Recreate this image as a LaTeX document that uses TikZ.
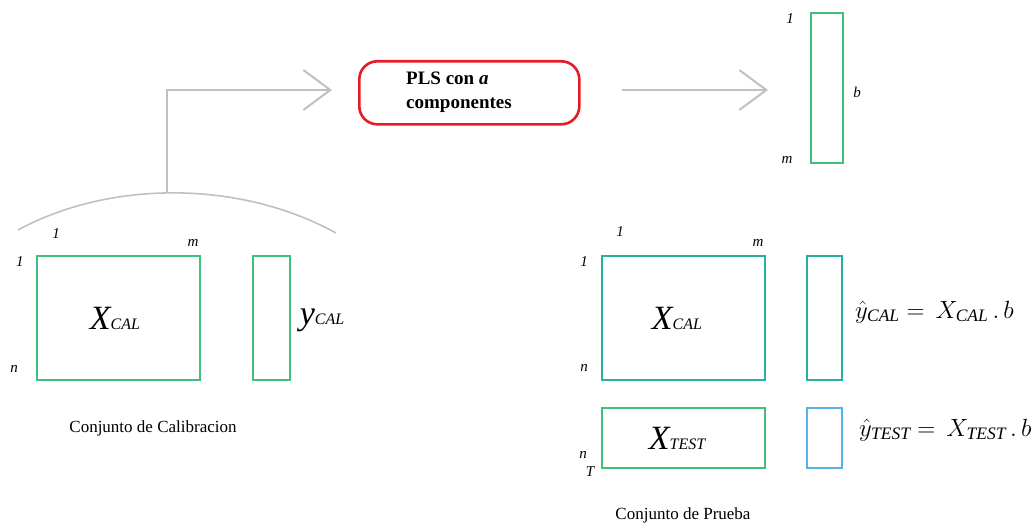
\documentclass[tikz,border=0pt]{standalone}
\usepackage{fontspec}
\setmainfont{Liberation Serif}
\usetikzlibrary{arrows.meta}
\definecolor{mgreen}{RGB}{62,192,122}
\definecolor{mteal}{RGB}{38,178,160}
\definecolor{mblue}{RGB}{84,178,230}
\definecolor{mgray}{RGB}{192,192,192}
\definecolor{mred}{RGB}{228,28,36}
\tikzset{
  mat/.style={draw=#1, line width=2pt, anchor=north west, inner sep=0pt},
  lbl/.style={font=\itshape\fontsize{15}{17}\selectfont, inner sep=0pt},
  flow/.style={draw=mgray, line width=2pt, -{Straight Barb[length=27pt,width=40pt]}},
  caption/.style={font=\fontsize{17}{20}\selectfont, inner sep=0pt},
  bigX/.style={font=\itshape\fontsize{34}{38}\selectfont, inner sep=0pt},
  eqn/.style={anchor=west, inner sep=0pt, font=\fontsize{25}{28}\selectfont},
}
\newcommand{\sub}[1]{{\fontsize{16}{18}\selectfont\itshape #1}}
\begin{document}
\begin{tikzpicture}[x=1pt,y=-1pt]
\useasboundingbox (0,0) rectangle (1034,527);
% arc (brace) and arrow to PLS
\draw[mgray, line width=1.6pt] (18,230) .. controls (110,180) and (240,180) .. (336,233);
\coordinate (arctop) at (167,192);
\coordinate (a1end) at (332,90);
\draw[flow] (arctop) -- (167,90) -- (a1end);
% PLS box
\node[draw=mred, line width=2.6pt, rounded corners=18pt, minimum width=220pt, minimum height=63pt, anchor=north west] (pls) at (358,60) {};
\node[font=\bfseries\fontsize{19}{24}\selectfont, align=left, anchor=west, inner sep=0pt] (plstext) at (406,92) {PLS con \textit{a}\\componentes};
% arrow to b
\coordinate (a2start) at (622,90);
\coordinate (a2end) at (768,90);
\draw[flow] (a2start) -- (a2end);
% b vector
\node[mat=mgreen, minimum width=32pt, minimum height=150pt] (bvec) at (810,12) {};
\node[lbl] (b1) at (790,19) {1};
\node[lbl] (bm) at (787,160) {m};
\node[lbl] (bb) at (857,92) {b};
% left calibration set
\node[mat=mgreen, minimum width=163pt, minimum height=124pt] (xcalL) at (36,255) {};
\node[bigX] (xcalLt) at (115,318) {X\sub{CAL}};
\node[mat=mgreen, minimum width=37pt, minimum height=124pt] (ycalL) at (252,255) {};
\node[font=\itshape\fontsize{34}{38}\selectfont, inner sep=0pt] (ycalLt) at (322,320) {y\sub{CAL}};
\node[lbl] (L1top) at (56,234) {1};
\node[lbl] (Lm) at (193,243) {m};
\node[lbl] (L1left) at (20,262) {1};
\node[lbl] (Ln) at (14,369) {n};
\node[caption] (capL) at (153,428) {Conjunto de Calibracion};
% right test set
\node[mat=mteal, minimum width=163pt, minimum height=124pt] (xcalR) at (601,255) {};
\node[bigX] (xcalRt) at (677,318) {X\sub{CAL}};
\node[mat=mteal, minimum width=35pt, minimum height=124pt] (ycalR) at (806,255) {};
\node[mat=mgreen, minimum width=163pt, minimum height=60pt] (xtest) at (601,407) {};
\node[bigX] (xtestt) at (677,438) {X\sub{TEST}};
\node[mat=mblue, minimum width=35pt, minimum height=60pt] (ytest) at (806,407) {};
\node[lbl] (R1top) at (620,232) {1};
\node[lbl] (Rm) at (758,243) {m};
\node[lbl] (R1left) at (584,262) {1};
\node[lbl] (Rn) at (584,368) {n};
\node[lbl] (Rnt) at (583,455) {n};
\node[lbl] (RT) at (590,472) {T};
\node[eqn] (eq1) at (855,312) {$\hat{y}_{\mathit{CAL}} = \,X_{\mathit{CAL}}\,.\,b$};
\node[eqn] (eq2) at (859,430) {$\hat{y}_{\mathit{TEST}} = \,X_{\mathit{TEST}}\,.\,b$};
\node[caption] (capR) at (683,515) {Conjunto de Prueba};
\end{tikzpicture}
\end{document}
